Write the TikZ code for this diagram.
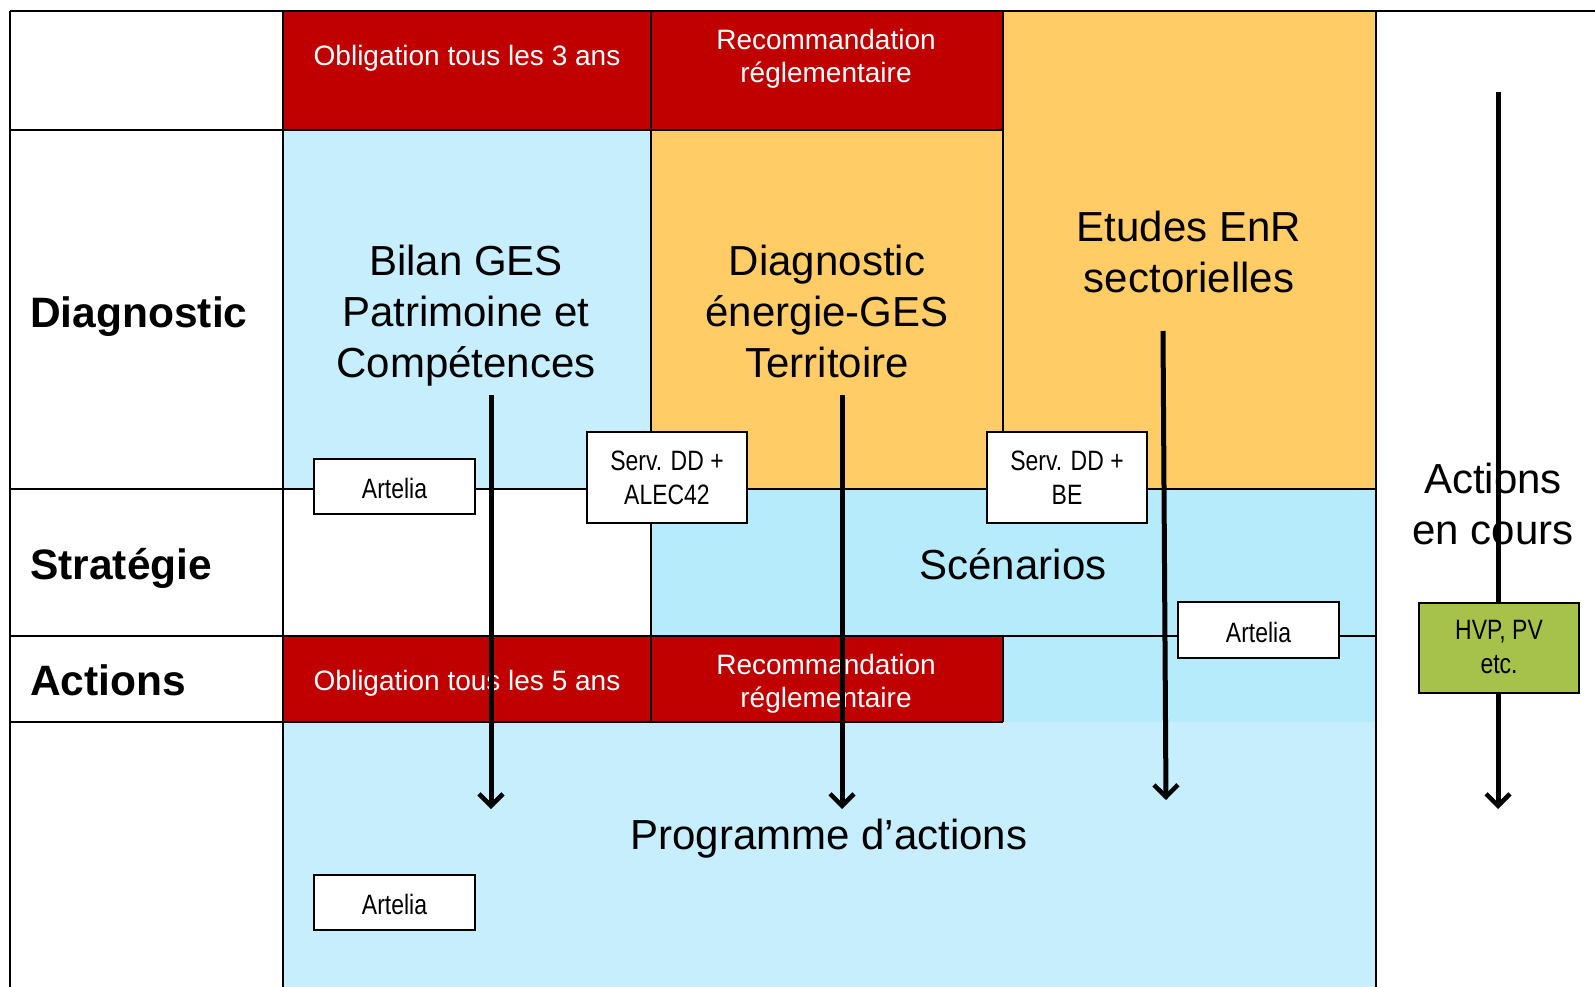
\documentclass[tikz,border=0pt]{standalone}
\usepackage{fontspec}
\setmainfont{Liberation Sans}
\newfontfamily\narrowfont{Liberation Sans}[FakeStretch=0.82]
\usetikzlibrary{arrows.meta}
\definecolor{hdrred}{RGB}{192,0,0}
\definecolor{paleblue}{RGB}{198,238,253}
\definecolor{scenblue}{RGB}{181,235,250}
\definecolor{orng}{RGB}{255,204,102}
\definecolor{grn}{RGB}{166,194,74}
\tikzset{
  grid/.style={line width=2pt, black},
  rowlbl/.style={anchor=west, inner sep=0pt, font=\fontsize{42.5}{51}\selectfont\bfseries},
  bigtxt/.style={align=center, inner sep=0pt, font=\fontsize{42}{51}\selectfont},
  redtxt/.style={align=center, inner sep=0pt, text=white, font=\fontsize{28}{33}\selectfont},
  smallbox/.style={draw, line width=1.6pt, fill=white, inner sep=0pt, align=center,
    font=\narrowfont\fontsize{28}{34}\selectfont},
  flow/.style={line width=5pt, -{Straight Barb[length=12pt,width=24pt,line width=4.5pt]}},
}
\begin{document}
\begin{tikzpicture}[x=1pt,y=-1pt]
\useasboundingbox (0,0) rectangle (1595,987);
% region fills
\fill[hdrred] (283,11) rectangle (1003,130);
\fill[orng] (651,130) rectangle (1003,489);
\fill[orng] (1003,11) rectangle (1376,489);
\fill[paleblue] (283,130) rectangle (651,489);
\fill[scenblue] (651,489) rectangle (1376,722);
\fill[paleblue] (283,722) rectangle (1376,987);
\fill[hdrred] (283,636) rectangle (1003,722);
% grid lines
\draw[grid] (10,11) -- (1595,11);
\draw[grid] (10,130) -- (1003,130);
\draw[grid] (10,489) -- (1376,489);
\draw[grid] (10,636) -- (1376,636);
\draw[grid] (10,722) -- (1003,722);
\draw[grid] (10,11) -- (10,987);
\draw[grid] (283,11) -- (283,987);
\draw[grid] (651,11) -- (651,722);
\draw[grid] (1003,11) -- (1003,489);
\draw[grid] (1003,636) -- (1003,722);
\draw[grid] (1376,11) -- (1376,987);
% row labels
\node[rowlbl] (diag) at (30,317) {Diagnostic};
\node[rowlbl] (strat) at (30,568) {Stratégie};
\node[rowlbl] (act) at (30,680) {Actions};
% red headers
\node[redtxt] (obl3) at (467,58) {Obligation tous les 3 ans};
\node[redtxt] (reco1) at (826,58.5) {Recommandation\\réglementaire};
\node[redtxt] (obl5) at (467,683) {Obligation tous les 5 ans};
\node[redtxt] (reco2) at (826,683.5) {Recommandation\\réglementaire};
% big texts
\node[bigtxt] (bilan) at (466,316) {Bilan GES\\Patrimoine et\\Compétences};
\node[bigtxt] (diagter) at (827,311) {Diagnostic\\énergie-GES\\Territoire};
\node[bigtxt] (etudes) at (1189,251.5) {Etudes EnR\\sectorielles};
\node[bigtxt] (scen) at (1013,564) {Scénarios};
\node[bigtxt] (prog) at (829,839) {Programme d’actions};
\node[bigtxt] (encours) at (1493,503.5) {Actions\\en cours};
% small boxes
\node[smallbox, minimum width=161pt, minimum height=55pt] (art1) at (394.5,486.5) {\raisebox{-2pt}[\height][\depth]{Artelia}};
\node[smallbox, minimum width=160pt, minimum height=91pt] (serv1) at (667,477.5) {Serv. DD +\\ALEC42};
\node[smallbox, minimum width=160pt, minimum height=91pt] (serv2) at (1067,477.5) {Serv. DD +\\BE};
\node[smallbox, minimum width=161pt, minimum height=56pt] (art2) at (1258.5,630) {\raisebox{-2pt}[\height][\depth]{Artelia}};
\node[smallbox, minimum width=161pt, minimum height=55pt] (art3) at (394.5,902.5) {\raisebox{-2pt}[\height][\depth]{Artelia}};
% arrows
\coordinate (a1s) at (491,395); \coordinate (a1e) at (491,809);
\coordinate (a2s) at (842,395); \coordinate (a2e) at (842,809);
\coordinate (a3s) at (1163,331); \coordinate (a3e) at (1166,800);
\coordinate (a4s) at (1498,92); \coordinate (a4e) at (1498,809);
\draw[flow] (a1s) -- (a1e);
\draw[flow] (a2s) -- (a2e);
\draw[flow] (a3s) -- (a3e);
\draw[flow] (a4s) -- (a4e);
\node[smallbox, fill=grn, minimum width=160pt, minimum height=90pt] (hvp) at (1499,648) {\raisebox{-2pt}[\height][\depth]{\begin{tabular}{@{}c@{}}HVP, PV\\etc.\end{tabular}}};
\end{tikzpicture}
\end{document}
